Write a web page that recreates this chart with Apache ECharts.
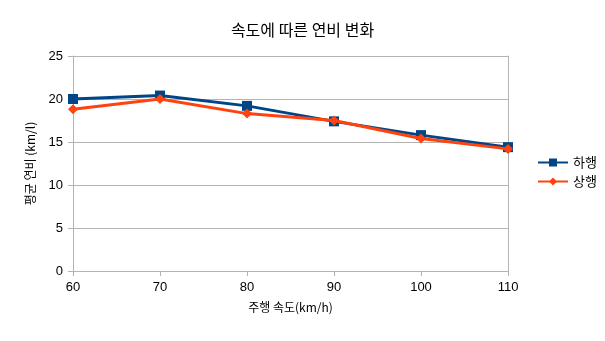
<!DOCTYPE html>
<html><head><meta charset="utf-8">
<script src="https://cdn.jsdelivr.net/npm/echarts@6/dist/echarts.min.js"></script>
<style>html,body{margin:0;padding:0;background:#fff}#c{width:605px;height:341px}</style>
</head><body><div id="c"></div>
<script>
const categories = ['60', '70', '80', '90', '100', '110'];
const downValues = [20.0, 20.4, 19.2, 17.4, 15.8, 14.4];
const upValues = [18.8, 20.0, 18.3, 17.5, 15.4, 14.2];
const seriesNames = ['하행', '상행'];
const titleText = '속도에 따른 연비 변화';
const xName = '주행 속도(km/h)';
const yName = '평균 연비 (km/l)';

const font = '"Liberation Sans", "Noto Sans CJK KR", sans-serif';
const chart = echarts.init(document.getElementById('c'), null, {renderer: 'canvas'});
chart.setOption({
  animation: false,
  textStyle: {fontFamily: font},
  title: {text: titleText, left: 'center', top: 17,
    textStyle: {fontFamily: '"Noto Sans CJK KR", sans-serif', fontSize: 16, fontWeight: 'normal', color: '#000'}},
  legend: {orient: 'vertical', left: 532, top: 151, itemGap: 6, itemWidth: 30, itemHeight: 10,
    textStyle: {fontFamily: '"Noto Sans CJK KR", sans-serif', fontSize: 13, color: '#000'},
    data: seriesNames},
  grid: {left: 73, right: 97, top: 56, bottom: 70, containLabel: false},
  xAxis: {type: 'category', data: categories, boundaryGap: false,
    name: xName, nameLocation: 'middle', nameGap: 30,
    nameTextStyle: {fontFamily: '"Noto Sans CJK KR", sans-serif', fontSize: 12, color: '#000'},
    axisLine: {lineStyle: {color: '#b3b3b3'}},
    axisTick: {show: true, length: 5, lineStyle: {color: '#b3b3b3'}},
    axisLabel: {color: '#000', fontSize: 13, margin: 10},
    splitLine: {show: false}},
  yAxis: [{type: 'value', min: 0, max: 25, interval: 5,
    name: yName, nameLocation: 'middle', nameGap: 37, nameRotate: 90,
    nameTextStyle: {fontFamily: '"Noto Sans CJK KR", sans-serif', fontSize: 12, color: '#000'},
    axisLine: {show: true, lineStyle: {color: '#b3b3b3'}},
    axisTick: {show: true, length: 5, lineStyle: {color: '#b3b3b3'}},
    axisLabel: {color: '#000', fontSize: 13, margin: 10},
    splitLine: {show: true, lineStyle: {color: '#b3b3b3'}}},
    {type: 'value', min: 0, max: 25, interval: 5, position: 'right',
    axisLine: {show: true, lineStyle: {color: '#b3b3b3'}},
    axisTick: {show: false}, axisLabel: {show: false}, splitLine: {show: false}}],
  series: [
    {name: seriesNames[0], type: 'line', data: downValues, color: '#004586',
      symbol: 'rect', symbolSize: 10, lineStyle: {width: 3}, z: 2},
    {name: seriesNames[1], type: 'line', data: upValues, color: '#ff420e',
      symbol: 'diamond', symbolSize: 10, lineStyle: {width: 3}, z: 3}
  ]
});
</script></body></html>
